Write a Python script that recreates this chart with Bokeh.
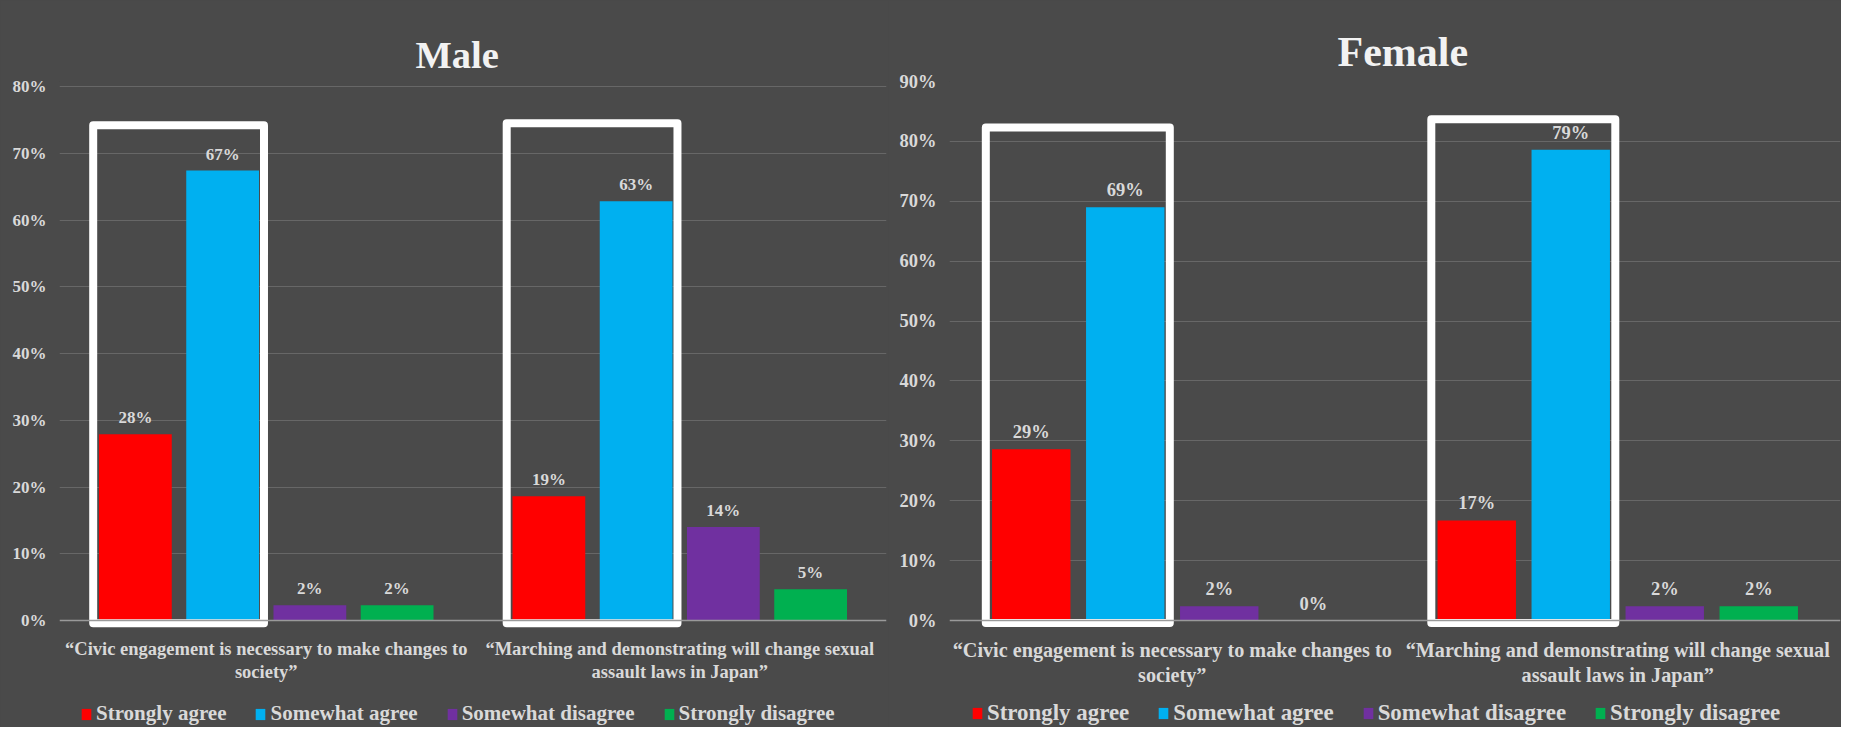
from bokeh.plotting import figure
from bokeh.layouts import row
from bokeh.models import (ColumnDataSource, Range1d, FixedTicker, PrintfTickFormatter,
                          Legend, LegendItem, Span)
from bokeh.transform import dodge
from bokeh.core.properties import value
from bokeh.embed import file_html
from bokeh.resources import INLINE

# ---------------- data ----------------
categories = [
    "\u201cCivic engagement is necessary to make changes to\nsociety\u201d",
    "\u201cMarching and demonstrating will change sexual\nassault laws in Japan\u201d",
]
series = ["Strongly agree", "Somewhat agree", "Somewhat disagree", "Strongly disagree"]
colors = ["#ff0000", "#00b0f0", "#7030a0", "#00b050"]

male_civic = [27.9, 67.4, 2.3, 2.3]
male_marching = [18.6, 62.8, 14.0, 4.7]
female_civic = [28.6, 69.0, 2.4, 0.0]
female_marching = [16.7, 78.6, 2.4, 2.4]

male_ticks = [0, 10, 20, 30, 40, 50, 60, 70, 80]
female_ticks = [0, 10, 20, 30, 40, 50, 60, 70, 80, 90]

# highlight boxes around "agree" bars (top in % units)
male_box_tops = [74.2, 74.5]
female_box_tops = [82.3, 83.7]

# ---------------- style / layout ----------------
FONT = "Liberation Serif"
TXT = "#d9d9d9"
BG = "#4a4a4a"
STEP = 0.211
BAR_W = 0.176
H = 727          # figure height (px)
TOP = 81         # top border (px)
ZERO_PX = 620    # pixel row of the 0% line


def panel(title, civic, marching, ticks, box_tops, fw, border_left, border_right,
          top_tick_px, title_offset, title_standoff, scale, ystand, legend_x):
    fh = H - TOP
    px_per_unit = (ZERO_PX - top_tick_px) / ticks[-1]
    y_max = ticks[-1] + (top_tick_px - TOP) / px_per_unit
    y_min = -(H - ZERO_PX) / px_per_unit
    fs = lambda s: "%.1fpx" % (s * scale)

    p = figure(x_range=categories, y_range=Range1d(y_min, y_max),
               frame_width=fw, frame_height=fh,
               output_backend="svg", toolbar_location=None,
               min_border_left=border_left, min_border_right=border_right,
               min_border_top=TOP, min_border_bottom=0)
    p.background_fill_color = BG
    p.border_fill_color = BG
    p.outline_line_color = None

    p.add_layout(Span(location=0, dimension="width", line_color="#9a9a9a",
                      line_width=1.5))

    items = []
    for i, s in enumerate(series):
        vals = [civic[i], marching[i]]
        src = ColumnDataSource(dict(cat=categories, val=vals,
                                    lbl=["%d%%" % round(v) for v in vals]))
        off = (i - 1.5) * STEP
        r = p.vbar(x=dodge("cat", off, range=p.x_range), top="val", width=BAR_W,
                   source=src, fill_color=colors[i], line_color=None)
        p.text(x=dodge("cat", off, range=p.x_range), y="val", text="lbl", source=src,
               text_align="center", text_baseline="bottom", y_offset=-7,
               text_color=TXT, text_font=value(FONT), text_font_style="bold",
               text_font_size=fs(17))
        items.append(LegendItem(label=s, renderers=[r]))

    box_src = ColumnDataSource(dict(cat=categories, top=box_tops))
    p.quad(left=dodge("cat", -1.5 * STEP - BAR_W / 2 - 0.014, range=p.x_range),
           right=dodge("cat", -0.5 * STEP + BAR_W / 2 + 0.012, range=p.x_range),
           bottom=-0.4, top="top", source=box_src, fill_alpha=0,
           line_color="white", line_width=8, line_join="round")

    # category labels under the 0% line
    cat_src = ColumnDataSource(dict(cat=categories, y=[0] * len(categories)))
    p.text(x="cat", y="y", text="cat", source=cat_src, text_align="center",
           text_baseline="top", y_offset=18, text_color=TXT, text_font=value(FONT),
           text_font_style="bold", text_font_size=fs(18.5), text_line_height=1.15)

    p.title.text = title
    p.title.align = "left"
    p.title.offset = title_offset
    p.title.standoff = title_standoff
    p.title.text_font = FONT
    p.title.text_font_size = fs(38.5)
    p.title.text_font_style = "bold"
    p.title.text_color = "#f2f2f2"

    p.xaxis.visible = False
    p.xgrid.grid_line_color = None
    p.ygrid.grid_line_color = "#676767"
    p.ygrid.grid_line_width = 1.2
    p.ygrid.ticker = FixedTicker(ticks=ticks[1:])

    p.yaxis.ticker = FixedTicker(ticks=ticks)
    p.yaxis.formatter = PrintfTickFormatter(format="%d%%")
    p.yaxis.axis_line_color = None
    p.yaxis.major_tick_line_color = None
    p.yaxis.minor_tick_line_color = None
    p.yaxis.major_label_standoff = ystand
    p.yaxis.major_label_text_font = FONT
    p.yaxis.major_label_text_font_style = "bold"
    p.yaxis.major_label_text_font_size = fs(17)
    p.yaxis.major_label_text_color = TXT

    legend = Legend(items=items, orientation="horizontal", location=(legend_x, 0),
                    background_fill_alpha=0, border_line_alpha=0,
                    label_text_font=FONT, label_text_font_style="bold",
                    label_text_font_size=fs(21), label_text_color=TXT,
                    glyph_width=12, glyph_height=14, label_standoff=4, spacing=28,
                    padding=1, margin=0)
    p.add_layout(legend, "center")
    return p


p1 = panel("Male", male_civic, male_marching, male_ticks, male_box_tops,
           827, 59, 2, 86, 356, 11, 1.0, 7, 20)
p2 = panel("Female", female_civic, female_marching, female_ticks, female_box_tops,
           891, 61, 1, 81, 388, 14, 1.09, 7, 21)

layout = row(p1, p2, spacing=0, styles={"background-color": BG})
open("out.html", "w").write(file_html(layout, INLINE))
